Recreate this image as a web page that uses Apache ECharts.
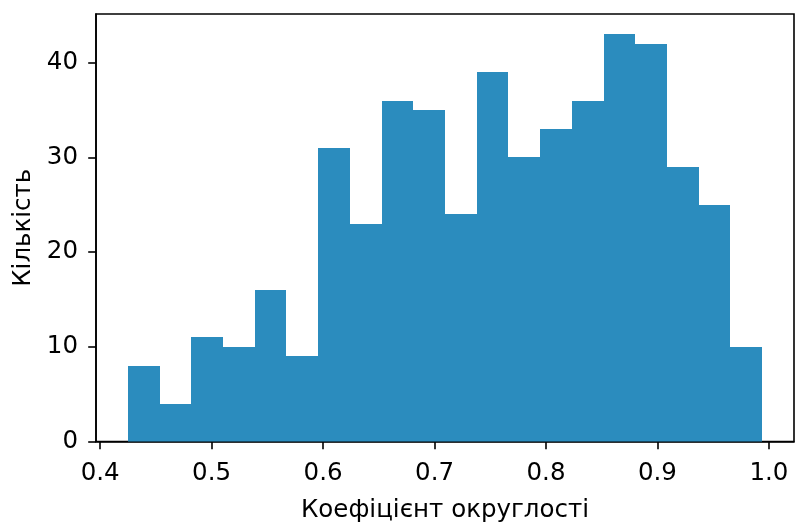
<!DOCTYPE html>
<html><head><meta charset="utf-8">
<script src="https://cdn.jsdelivr.net/npm/echarts@6/dist/echarts.min.js"></script>
<style>html,body{margin:0;padding:0;background:#fff}#c{width:795px;height:522px}</style>
</head><body><div id="c"></div>
<script>
const binEdges = [0.4248, 0.4533, 0.4817, 0.5102, 0.5386, 0.5671, 0.5956, 0.6240, 0.6525, 0.6809, 0.7094,
                  0.7379, 0.7663, 0.7948, 0.8232, 0.8517, 0.8802, 0.9086, 0.9371, 0.9655, 0.9940];
const counts = [8, 4, 11, 10, 16, 9, 31, 23, 36, 35, 24, 39, 30, 33, 36, 43, 42, 29, 25, 10];
const xTicks = [0.4, 0.5, 0.6, 0.7, 0.8, 0.9, 1.0];
const yTicks = [0, 10, 20, 30, 40];
const xLabel = 'Коефіцієнт округлості';
const yLabel = 'Кількість';

const data = counts.map((c, i) => [binEdges[i], binEdges[i + 1], c]);
const font = 'DejaVu Sans';
const fs = 24.5;
const chart = echarts.init(document.getElementById('c'), null, {renderer: 'canvas'});
chart.setOption({
  animation: false,
  grid: {left: 96, right: 1, top: 14, bottom: 80.5, show: true, borderColor: '#000', borderWidth: 1.6,
         backgroundColor: 'transparent', containLabel: false, outerBoundsMode: 'none'},
  xAxis: {
    type: 'value', min: 0.3963, max: 1.0225,
    name: xLabel, nameLocation: 'middle', nameGap: 57,
    nameTextStyle: {fontFamily: font, fontSize: fs, color: '#000'},
    axisLine: {show: true, onZero: false, lineStyle: {color: '#000', width: 1.6}},
    axisTick: {show: true, length: 7.8, customValues: xTicks, lineStyle: {color: '#000', width: 1.6}},
    axisLabel: {customValues: xTicks, formatter: v => v.toFixed(1), fontFamily: font, fontSize: fs,
                color: '#000', margin: 20},
    splitLine: {show: false}
  },
  yAxis: {
    type: 'value', min: 0, max: 45.15,
    name: yLabel, nameLocation: 'middle', nameGap: 57,
    nameTextStyle: {fontFamily: font, fontSize: fs, color: '#000'},
    axisLine: {show: true, lineStyle: {color: '#000', width: 1.6}},
    axisTick: {show: true, length: 7.8, customValues: yTicks, lineStyle: {color: '#000', width: 1.6}},
    axisLabel: {customValues: yTicks, formatter: v => String(v), fontFamily: font, fontSize: fs,
                color: '#000', margin: 18},
    splitLine: {show: false}
  },
  series: [{
    type: 'custom',
    data: data,
    encode: {x: [0, 1], y: 2},
    renderItem: function (params, api) {
      const p0 = api.coord([api.value(0), 0]);
      const p1 = api.coord([api.value(1), api.value(2)]);
      const x0 = Math.round(p0[0]), x1 = Math.round(p1[0]);
      const yb = p0[1], yt = Math.round(p1[1]);
      return {
        type: 'rect',
        shape: {x: x0, y: yt, width: x1 - x0, height: yb - yt},
        style: {fill: '#2b8cbe', stroke: null}
      };
    }
  }]
});
</script>
</body></html>
